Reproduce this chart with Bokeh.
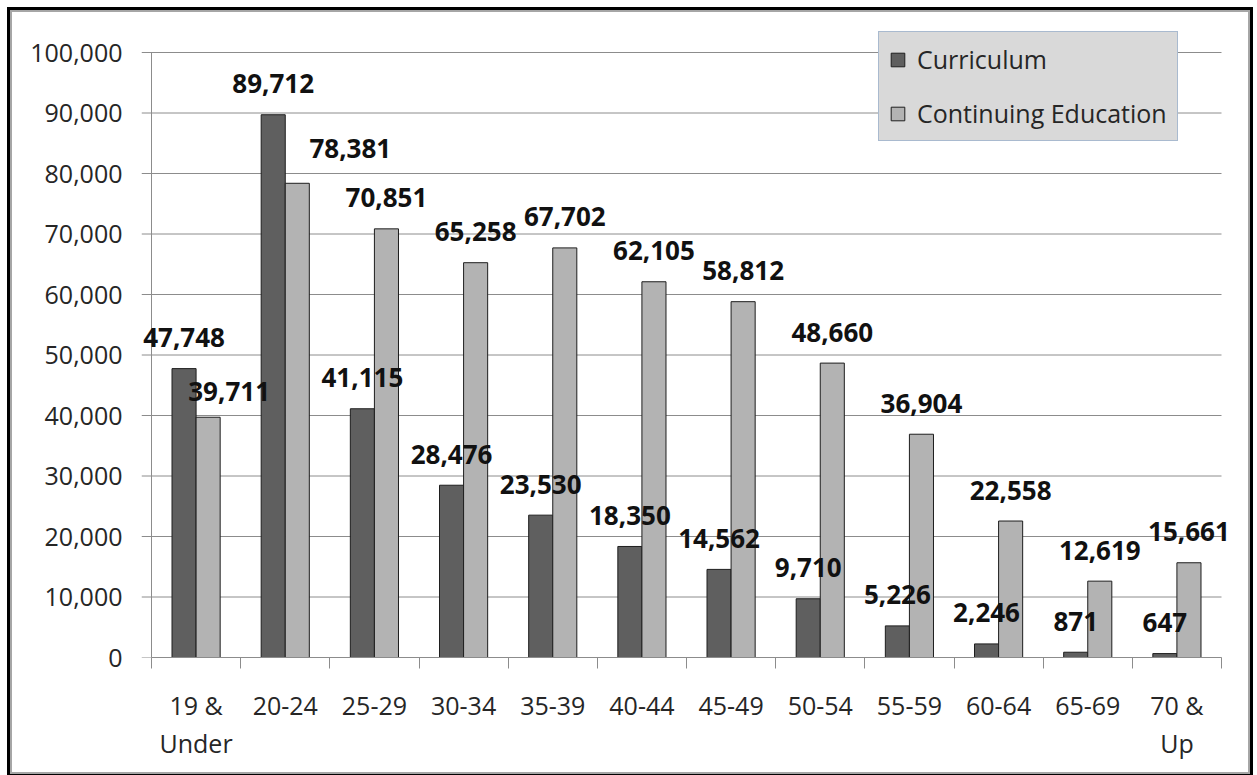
from bokeh.plotting import figure
from bokeh.models import (ColumnDataSource, Range1d, FixedTicker, NumeralTickFormatter,
                          Legend, LegendItem)
from bokeh.transform import dodge
from bokeh.core.properties import value
from bokeh.embed import file_html
from bokeh.resources import INLINE

# ---------------- data ----------------
age_groups = ["19 &\nUnder", "20-24", "25-29", "30-34", "35-39", "40-44",
              "45-49", "50-54", "55-59", "60-64", "65-69", "70 &\nUp"]
curriculum = [47748, 89712, 41115, 28476, 23530, 18350, 14562, 9710, 5226, 2246, 871, 647]
continuing_education = [39711, 78381, 70851, 65258, 67702, 62105, 58812, 48660,
                        36904, 22558, 12619, 15661]
series_names = ["Curriculum", "Continuing Education"]
y_ticks = [0, 10000, 20000, 30000, 40000, 50000, 60000, 70000, 80000, 90000, 100000]

# ---------------- style ----------------
FONT = "Open Sans"
DARK = "#5f5f5f"
LIGHT = "#b3b3b3"
GRID = "#8c8c8c"
TXT = "#262626"
BAR_W = 0.27
LABEL_GAP = -31           # baseline offset of value labels above bar top (px)
# manual label nudges (px) for the two labels that were moved in the original
cont_nudge = {0: (21, 5), 1: (53, -4)}

n = len(age_groups)
PLOT_W = 1070             # pixel width of the category area
TICK_PX = 10              # length of the y tick marks (left of the value axis)
EXTRA_R = 12              # room for the right-most value label
FRAME_W = PLOT_W + TICK_PX + EXTRA_R
FRAME_H = 627
AXIS_PX = 605             # pixel height of 0..100,000
cat_px = PLOT_W / n
y_end = max(y_ticks) * FRAME_H / AXIS_PX
x_start = -0.5 - TICK_PX / cat_px
x_end = n - 0.5 + EXTRA_R / cat_px

xs = list(range(n))
src = ColumnDataSource(dict(
    x=xs,
    cur=curriculum,
    cont=continuing_education,
    cur_lab=[f"{v:,}" for v in curriculum],
    cont_lab=[f"{v:,}" for v in continuing_education],
    cont_dx=[cont_nudge.get(i, (0, 0))[0] for i in xs],
    cont_dy=[LABEL_GAP + cont_nudge.get(i, (0, 0))[1] for i in xs],
))

p = figure(frame_width=FRAME_W, frame_height=FRAME_H, output_backend="svg",
           toolbar_location=None,
           x_range=Range1d(x_start, x_end), y_range=Range1d(0, y_end),
           min_border_left=139 - TICK_PX, min_border_right=15, min_border_top=18,
           min_border_bottom=115, background_fill_color="white",
           border_fill_color="white", outline_line_color=None)
p.styles = {"border": "2px solid #a6a6a6", "outline": "3px solid black",
            "margin": "10px 0px 0px 10px"}

# horizontal grid lines (they start at the tick-mark end, left of the value axis)
grid_src = ColumnDataSource(dict(y=y_ticks, x0=[x_start] * len(y_ticks),
                                 x1=[n - 0.5] * len(y_ticks)))
p.segment(x0="x0", x1="x1", y0="y", y1="y", source=grid_src,
          line_color=GRID, line_width=1)
# value-axis line at the left edge of the category area
p.segment(x0=[-0.5], x1=[-0.5], y0=[min(y_ticks)], y1=[max(y_ticks)],
          line_color=GRID, line_width=1)

r1 = p.vbar(x=dodge("x", -BAR_W / 2), top="cur", width=BAR_W, source=src,
            fill_color=DARK, line_color="#1e1e1e", line_width=1)
r2 = p.vbar(x=dodge("x", BAR_W / 2), top="cont", width=BAR_W, source=src,
            fill_color=LIGHT, line_color="#1e1e1e", line_width=1)

common = dict(text_font=value(FONT), text_font_style="bold", text_font_size="26px",
              text_color="#111111", text_align="center", text_baseline="alphabetic")
p.text(x=dodge("x", -BAR_W / 2), y="cur", text="cur_lab", source=src,
       y_offset=LABEL_GAP, **common)
p.text(x=dodge("x", BAR_W / 2), y="cont", text="cont_lab", source=src,
       x_offset="cont_dx", y_offset="cont_dy", **common)

# y axis: only its labels are shown (line and ticks drawn above)
ya = p.yaxis[0]
ya.ticker = FixedTicker(ticks=y_ticks)
ya.formatter = NumeralTickFormatter(format="0,0")
ya.axis_line_color = None
ya.major_tick_line_color = None
ya.major_tick_out = 0
ya.major_tick_in = 0
ya.minor_tick_line_color = None
ya.major_label_standoff = 19
ya.major_label_text_font = FONT
ya.major_label_text_font_size = "25px"
ya.major_label_text_color = TXT

# x axis: labels at category centres, tick marks at category boundaries
xa = p.xaxis[0]
xa.ticker = FixedTicker(ticks=xs, minor_ticks=[i - 0.5 for i in range(n + 1)])
xa.bounds = (-0.5, n - 0.5)
xa.major_label_overrides = {i: lab for i, lab in enumerate(age_groups)}
xa.axis_line_color = GRID
xa.major_tick_line_color = None
xa.major_tick_out = 0
xa.major_tick_in = 0
xa.minor_tick_line_color = GRID
xa.minor_tick_out = 11
xa.minor_tick_in = 0
xa.major_label_standoff = 19
xa.major_label_text_font = FONT
xa.major_label_text_font_size = "25px"
xa.major_label_text_color = TXT
xa.major_label_text_line_height = 1.12

p.xgrid.visible = False
p.ygrid.visible = False

legend = Legend(items=[LegendItem(label=series_names[0], renderers=[r1]),
                       LegendItem(label=series_names[1], renderers=[r2])],
                location=(727 + TICK_PX, 516), orientation="vertical",
                background_fill_color="#d9d9d9", background_fill_alpha=1,
                border_line_color="#7a9cc6", border_line_width=1,
                label_text_font=FONT, label_text_font_size="25px",
                label_text_color=TXT, glyph_width=17, glyph_height=17,
                label_standoff=11, padding=10, spacing=20, margin=0)
p.add_layout(legend)

open("out.html", "w").write(file_html(p, INLINE))
